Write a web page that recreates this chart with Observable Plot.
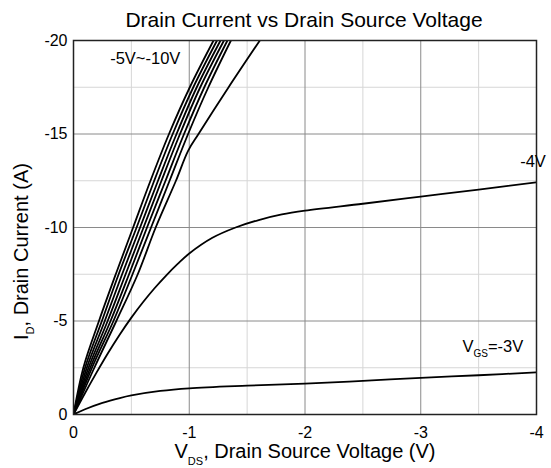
<!DOCTYPE html>
<html><head><meta charset="utf-8">
<script src="https://cdn.jsdelivr.net/npm/d3@7"></script>
<script src="https://cdn.jsdelivr.net/npm/@observablehq/plot@0.6"></script>
<style>body{margin:0;background:#fff} #chart{width:551px;height:468px}</style>
</head><body><div id="chart"></div>
<script>
// ---- data ----
const idLevels = [0, -2.5, -5, -7.5, -10, -12.5, -15, -17.5, -20];
const vdsVgs10 = [0, -0.085, -0.22, -0.365, -0.515, -0.665, -0.825, -1.005, -1.21];
const vdsVgs9  = [0, -0.10, -0.245, -0.39, -0.545, -0.697, -0.857, -1.035, -1.24];
const vdsVgs8  = [0, -0.115, -0.27, -0.42, -0.575, -0.73, -0.89, -1.065, -1.27];
const vdsVgs7  = [0, -0.13, -0.295, -0.45, -0.605, -0.76, -0.92, -1.095, -1.30];
const vdsVgs6  = [0, -0.145, -0.32, -0.48, -0.635, -0.795, -0.955, -1.13, -1.33];
const vdsVgs5  = [0, -0.16, -0.345, -0.51, -0.67, -0.83, -0.99, -1.165, -1.36];

const vdsVgs45 = [0, -0.18, -0.37, -0.555, -0.71, -0.885, -0.99, -1.08, -1.34, -1.61];
const idVgs45  = [0, -2.5, -5, -7.5, -10, -12.5, -14.1, -15, -17.5, -20];

const vdsVgs4 = [0, -0.1, -0.2, -0.3, -0.4, -0.5, -0.6, -0.7, -0.8, -0.9, -1.0, -1.2, -1.4, -1.6, -1.8, -2.0, -2.5, -3.0, -3.5, -4.0];
const idVgs4  = [0, -1.15, -2.25, -3.3, -4.28, -5.18, -6.0, -6.75, -7.43, -8.05, -8.61, -9.45, -10.0, -10.4, -10.7, -10.9, -11.27, -11.65, -12.03, -12.42];

const vdsVgs3 = [0, -0.1, -0.25, -0.4, -0.5, -0.75, -1.0, -1.5, -2.0, -2.5, -3.0, -3.5, -4.0];
const idVgs3  = [0, -0.28, -0.62, -0.88, -1.02, -1.26, -1.4, -1.54, -1.65, -1.8, -1.96, -2.1, -2.25];

const xTicks = [0, -1, -2, -3, -4];
const yTicks = [0, -5, -10, -15, -20];
const xMajorGrid = [-1, -2, -3];
const xMinorGrid = [-0.5, -1.5, -2.5, -3.5];
const yMajorGrid = [-5, -10, -15];
const yMinorGrid = [-2.5, -7.5, -12.5, -17.5];

const curveLabels = ["-5V~-10V", "-4V"];
const curveLabelX = [-0.62, -3.97];
const curveLabelY = [-19.05, -13.5];
const vgs3LabelX = -3.89, vgs3LabelY = -3.6;

const titleText = "Drain Current vs Drain Source Voltage";

// ---- build table ----
const rows = [];
function addSeries(name, xs, ys) { xs.forEach((v, i) => rows.push({vgs: name, vds: v, id: ys[i]})); }
addSeries("-10V", vdsVgs10, idLevels);
addSeries("-9V", vdsVgs9, idLevels);
addSeries("-8V", vdsVgs8, idLevels);
addSeries("-7V", vdsVgs7, idLevels);
addSeries("-6V", vdsVgs6, idLevels);
addSeries("-5V", vdsVgs5, idLevels);
addSeries("-4.5V", vdsVgs45, idVgs45);
addSeries("-4V", vdsVgs4, idVgs4);
addSeries("-3V", vdsVgs3, idVgs3);

const fontFamily = '"Liberation Sans", Arial, Helvetica, sans-serif';
const fmt = d => String(d);

const plot = Plot.plot({
  width: 551, height: 468,
  marginLeft: 73, marginRight: 15, marginTop: 40, marginBottom: 54,
  style: {fontFamily, fontSize: "15px", color: "#000", background: "#fff"},
  x: {domain: [0, -4]},
  y: {domain: [0, -20]},
  marks: [
    Plot.ruleX(xMinorGrid, {stroke: "#d6d6d6", strokeWidth: 1}),
    Plot.ruleY(yMinorGrid, {stroke: "#d6d6d6", strokeWidth: 1}),
    Plot.ruleX(xMajorGrid, {stroke: "#8a8a8a", strokeWidth: 1}),
    Plot.ruleY(yMajorGrid, {stroke: "#8a8a8a", strokeWidth: 1}),
    Plot.line(rows, {x: "vds", y: "id", z: "vgs", stroke: "#000", strokeWidth: 1.8, curve: "catmull-rom", clip: true}),
    Plot.frame({stroke: "#222", strokeWidth: 1.5}),
    Plot.text(curveLabels, {x: (d, i) => curveLabelX[i], y: (d, i) => curveLabelY[i], text: d => d,
      textAnchor: (d, i) => i === 0 ? "middle" : "end", fontSize: 16.5, fill: "#000"}),
    Plot.axisX({ticks: xTicks, tickSize: 0, tickPadding: 12, tickFormat: fmt, label: null, fontSize: 16}),
    Plot.axisY({ticks: yTicks, tickSize: 0, tickPadding: 6, tickFormat: fmt, label: null, fontSize: 16})
  ]
});
document.getElementById("chart").appendChild(plot);

const svg = d3.select(plot);
const sx = plot.scale("x"), sy = plot.scale("y");

svg.append("text").attr("x", 304).attr("y", 27).attr("text-anchor", "middle")
  .attr("font-size", 21).attr("fill", "#000").text(titleText);

const xl = svg.append("text").attr("x", 305).attr("y", 458).attr("text-anchor", "middle")
  .attr("font-size", 20).attr("fill", "#000");
xl.append("tspan").text("V");
xl.append("tspan").attr("font-size", 11).attr("dy", 7).text("DS");
xl.append("tspan").attr("dy", -7).text(", Drain Source Voltage (V)");

const yl = svg.append("text").attr("transform", "translate(28,340) rotate(-90)").attr("text-anchor", "start")
  .attr("font-size", 20).attr("fill", "#000");
yl.append("tspan").text("I");
yl.append("tspan").attr("font-size", 11).attr("dy", 6).text("D");
yl.append("tspan").attr("dy", -6).text(", Drain Current (A)");

const vl = svg.append("text").attr("x", sx.apply(vgs3LabelX)).attr("y", sy.apply(vgs3LabelY)).attr("dy", "0.35em")
  .attr("text-anchor", "end").attr("font-size", 16.5).attr("fill", "#000");
vl.append("tspan").text("V");
vl.append("tspan").attr("font-size", 10).attr("dy", 5).text("GS");
vl.append("tspan").attr("dy", -5).text("=-3V");
</script>
</body></html>
